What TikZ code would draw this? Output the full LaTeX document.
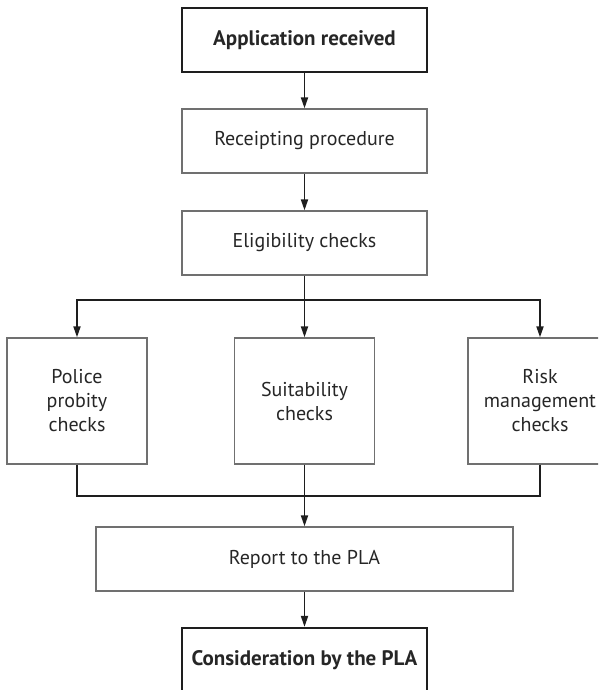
\documentclass[tikz,border=0pt]{standalone}
\usepackage{fontspec}
\setmainfont{PT Sans}
\usepackage{tikz}
\usetikzlibrary{arrows.meta}
\definecolor{linedark}{HTML}{1E1E1E}
\definecolor{boxgrey}{HTML}{707070}
\definecolor{textdark}{HTML}{262626}
\tikzset{
  every node/.style={font=\fontsize{20}{24}\selectfont},
}

\begin{document}
\begin{tikzpicture}[
    x=1pt, y=-1pt,
    box/.style={draw=boxgrey, line width=1.3pt, minimum width=245pt, minimum height=64pt, inner sep=0pt, text=textdark},
    keybox/.style={box, draw=linedark, line width=2.2pt, font=\fontsize{21}{25}\selectfont\bfseries},
    checkbox/.style={box, minimum width=140pt, minimum height=126pt, align=center},
    flow/.style={line width=1.8pt, draw=linedark, -{Triangle[length=11pt,width=7pt]}},
    mergeline/.style={line width=1.8pt, draw=linedark}
    ]
    \useasboundingbox (0,0) rectangle (598,690);
    \clip (0,0) rectangle (598,690);
    \node[keybox] (app) at (304.5,40) {Application received};
    \node[box] (receipt) at (304.5,141) {Receipting procedure};
    \node[box] (elig) at (304.5,243) {Eligibility checks};
    \node[checkbox] (police) at (77,401) {Police\\probity\\checks};
    \node[checkbox] (suit) at (304.5,401) {Suitability\\checks};
    \node[checkbox, minimum width=144pt] (risk) at (540,401) {Risk\\management\\checks};
    \node[box, minimum width=417pt] (report) at (304.5,559) {Report to the PLA};
    \node[keybox] (consid) at (304.5,660) {Consideration by the PLA};
    \coordinate (split) at (304.5,300);
    \coordinate (merge) at (304.5,496);
    \draw[flow] (app) -- (receipt);
    \draw[flow] (receipt) -- (elig);
    \draw[flow] (elig) -- (suit);
    \draw[flow] (split) -| (police);
    \draw[flow] (split) -| (risk);
    \draw[mergeline] (police) |- (merge);
    \draw[mergeline] (risk) |- (merge);
    \draw[flow] (suit) -- (report);
    \draw[flow] (report) -- (consid);
  \end{tikzpicture}
\end{document}
